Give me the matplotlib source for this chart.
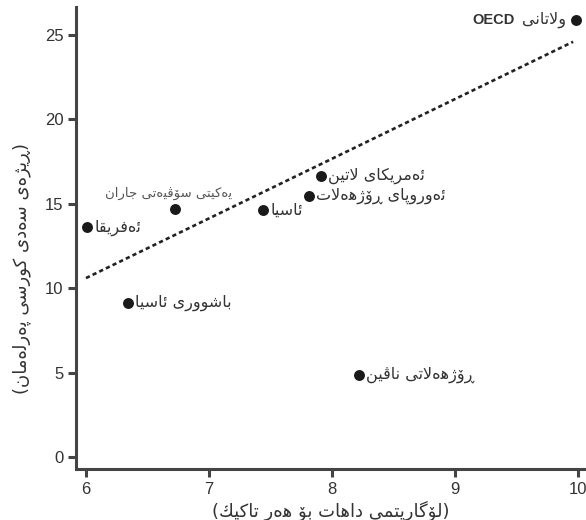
import matplotlib
matplotlib.use("Agg")
import matplotlib.pyplot as plt

# ---------------- data ----------------
regions = ["ئەفریقا", "یەکێتی سۆڤیەتی جاران", "ئاسیا", "ئەمریکای لاتین",
           "ئەوروپای ڕۆژهەڵات", "باشووری ئاسیا", "ڕۆژهەڵاتی ناڤین", "وڵاتانی"]
log_income = [6.01, 6.72, 7.44, 7.91, 7.81, 6.34, 8.22, 9.98]
parl_share = [13.6, 14.7, 14.65, 16.65, 15.45, 9.15, 4.85, 25.9]
oecd_tag = "OECD"
trend_x = [6.0, 9.96]
trend_y = [10.6, 24.6]
x_ticks = [6, 7, 8, 9, 10]
y_ticks = [0, 5, 10, 15, 20, 25]
x_label = "(لۆگاریتمی داهات بۆ هەر تاکێك)"
y_label = "(ڕێژەی سەدی کورسی پەرلەمان)"

# ---------------- minimal Arabic-script shaping ----------------
_F = {  # isolated, final, initial, medial
    0x0626: (0xFE89, 0xFE8A, 0xFE8B, 0xFE8C),
    0x0627: (0xFE8D, 0xFE8E, None, None),
    0x0628: (0xFE8F, 0xFE90, 0xFE91, 0xFE92),
    0x062A: (0xFE95, 0xFE96, 0xFE97, 0xFE98),
    0x062C: (0xFE9D, 0xFE9E, 0xFE9F, 0xFEA0),
    0x062F: (0xFEA9, 0xFEAA, None, None),
    0x0631: (0xFEAD, 0xFEAE, None, None),
    0x0632: (0xFEAF, 0xFEB0, None, None),
    0x0633: (0xFEB1, 0xFEB2, 0xFEB3, 0xFEB4),
    0x0634: (0xFEB5, 0xFEB6, 0xFEB7, 0xFEB8),
    0x0641: (0xFED1, 0xFED2, 0xFED3, 0xFED4),
    0x0642: (0xFED5, 0xFED6, 0xFED7, 0xFED8),
    0x0643: (0xFED9, 0xFEDA, 0xFEDB, 0xFEDC),
    0x0644: (0xFEDD, 0xFEDE, 0xFEDF, 0xFEE0),
    0x0645: (0xFEE1, 0xFEE2, 0xFEE3, 0xFEE4),
    0x0646: (0xFEE5, 0xFEE6, 0xFEE7, 0xFEE8),
    0x0647: (0xFEE9, 0xFEEA, 0xFEEB, 0xFEEC),
    0x0648: (0xFEED, 0xFEEE, None, None),
    0x067E: (0xFB56, 0xFB57, 0xFB58, 0xFB59),
    0x0698: (0xFB8A, 0xFB8B, None, None),
    0x06A4: (0xFB6A, 0xFB6B, 0xFB6C, 0xFB6D),
    0x06A9: (0xFB8E, 0xFB8F, 0xFB90, 0xFB91),
    0x06AF: (0xFB92, 0xFB93, 0xFB94, 0xFB95),
    0x06C6: (0xFBD9, 0xFBDA, None, None),
    0x06CC: (0xFBFC, 0xFBFD, 0xFBFE, 0xFBFF),
    0x0695: (0x0695, 0x0695, None, None),
    0x06D5: (0x06D5, 0x06D5, None, None),
}
_ALIAS = {"\u06B5": "\u0644", "\u06CE": "\u06CC"}


def _base(c):
    return _ALIAS.get(c, c)


def _is_ar(c):
    return c is not None and ord(_base(c)) in _F


def _dual(c):
    return _is_ar(c) and _F[ord(_base(c))][2] is not None


def shape(text):
    out = []
    i, n = 0, len(text)
    while i < n:
        c = text[i]
        if not _is_ar(c):
            out.append(c)
            i += 1
            continue
        prev = text[i - 1] if i > 0 else None
        nxt = text[i + 1] if i + 1 < n else None
        jp = _dual(prev)
        b = _base(c)
        if b == "\u0644" and nxt == "\u0627":
            out.append("\uFEFC" if jp else "\uFEFB")
            i += 2
            continue
        jn = _dual(c) and _is_ar(nxt)
        f = _F[ord(b)]
        if jp and jn:
            code = f[3]
        elif jp:
            code = f[1]
        elif jn:
            code = f[2]
        else:
            code = f[0]
        out.append(chr(code))
        i += 1
    return "".join(out)


def rtl(text):
    s = shape(text)[::-1]
    return s.translate(str.maketrans("()", ")("))


# ---------------- figure ----------------
plt.rcParams["font.family"] = ["Liberation Sans", "DejaVu Sans"]
ink = "#333333"
fig = plt.figure(figsize=(5.86, 5.2), dpi=100)
ax = fig.add_axes([76 / 586, 51 / 520, 510 / 586, 462 / 520])

ax.plot(trend_x, trend_y, color="#222222", lw=1.9, dashes=(1.6, 1.2), zorder=2)
ax.scatter(log_income, parl_share, s=62, color="#1a1a1a", zorder=3, linewidths=0)

ax.set_xlim(5.919, 10.065)
ax.set_ylim(-0.71, 26.66)
ax.set_xticks(x_ticks)
ax.set_yticks(y_ticks)
for s in ("top", "right"):
    ax.spines[s].set_visible(False)
for s in ("left", "bottom"):
    ax.spines[s].set_linewidth(2.2)
    ax.spines[s].set_color("#444444")
ax.tick_params(axis="both", length=6, width=2.2, color="#444444",
               labelsize=12, labelcolor=ink, pad=3)

lab_fs = 11.5
# label styles: (dx pt, dy pt, ha, va, fontsize, color)
styles = [
    (5, 0, "left", "center", lab_fs, ink),
    (-4.3, 11, "center", "center", 9.5, "#555555"),
    (5, 0, "left", "center", lab_fs, ink),
    (5, 0, "left", "center", lab_fs, ink),
    (5, 0, "left", "center", lab_fs, ink),
    (5, 0, "left", "center", lab_fs, ink),
    (5, 0, "left", "center", lab_fs, ink),
    (-7, 0, "right", "center", lab_fs, ink),
]
texts = []
for name, x, y, st in zip(regions, log_income, parl_share, styles):
    dx, dy, ha, va, fs, col = st
    t = ax.annotate(rtl(name), (x, y), xytext=(dx, dy), textcoords="offset points",
                    ha=ha, va=va, fontsize=fs, color=col,
                    family=["DejaVu Sans"], annotation_clip=False)
    texts.append(t)

ax.annotate(oecd_tag, xy=(0, 0.5), xycoords=texts[-1], xytext=(-5, 0),
            textcoords="offset points", ha="right", va="center",
            fontsize=10.5, fontweight="bold", color=ink)

ax.set_xlabel(rtl(x_label), fontsize=13, color=ink, labelpad=3,
              family=["DejaVu Sans"])
ax.set_ylabel(rtl(y_label), fontsize=13, color=ink,
              family=["DejaVu Sans"])
ax.yaxis.set_label_coords(-0.088, 0.433)

fig.savefig("out.png", dpi=100)
